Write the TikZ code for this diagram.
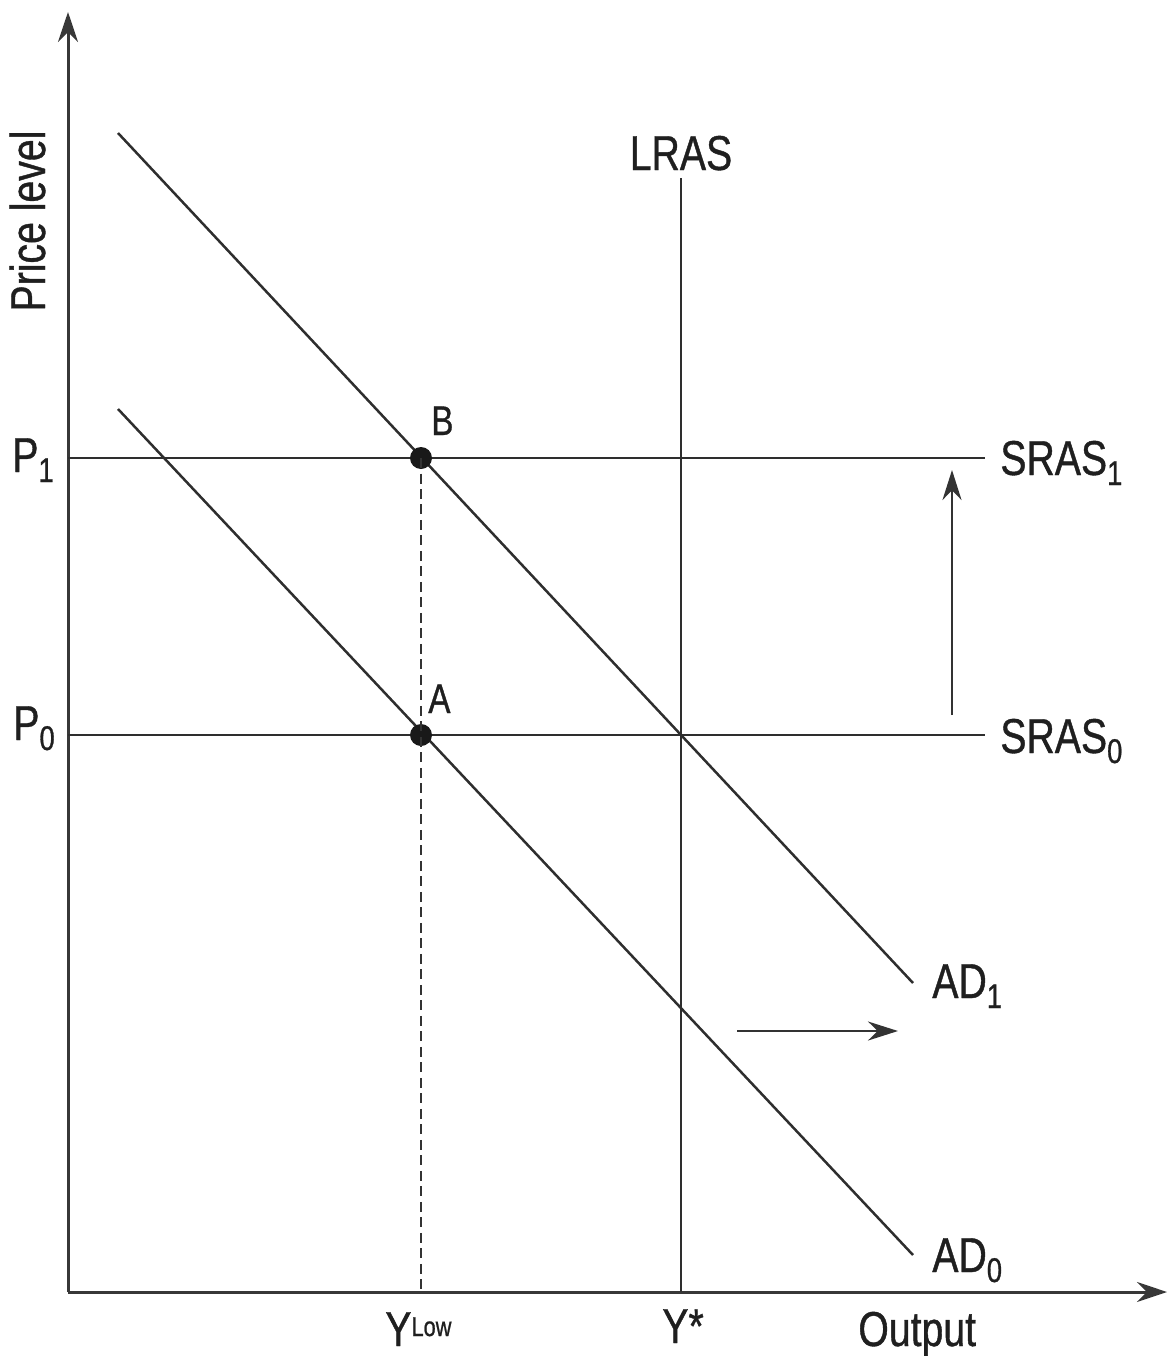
\documentclass[tikz,border=0pt]{standalone}
\usepackage{fontspec}
\setmainfont{Liberation Sans}[FakeStretch=0.8,FakeBold=0.8]
\usetikzlibrary{arrows.meta}
\newcommand\mysub[1]{\raisebox{-0.2cm}{\fontsize{19.5}{20}\selectfont #1}}
\begin{document}
\begin{tikzpicture}[x=0.02cm,y=-0.02cm,
  curve/.style={draw=black!82,line width=0.05cm},
  axis/.style={draw=black!78,line width=0.06cm,-{Stealth[length=0.6cm,width=0.4cm]}},
  shift arrow/.style={draw=black!80,line width=0.05cm,-{Stealth[length=0.6cm,width=0.38cm]}},
  guide/.style={draw=black!80,line width=0.045cm,dash pattern=on 0.2cm off 0.11cm},
  dotnode/.style={circle,fill=black!90,inner sep=0,minimum size=0.44cm},
  lbl/.style={inner sep=0,text=black!88,font=\fontsize{27.9}{30}\selectfont},
  small lbl/.style={inner sep=0,text=black!88,font=\fontsize{23.6}{25}\selectfont}]
\useasboundingbox (0,0) rectangle (1169,1356);
% coordinates
\coordinate (O) at (68,1292);
\coordinate (ytop) at (68,12);
\coordinate (xend) at (1167,1292);
\coordinate (lrasT) at (681,178);
\coordinate (lrasB) at (681,1292);
\coordinate (s1L) at (68,458);
\coordinate (s1R) at (985,458);
\coordinate (s0L) at (68,735);
\coordinate (s0R) at (985,735);
\coordinate (ad1S) at (118,133);
\coordinate (ad1E) at (913,983);
\coordinate (ad0S) at (118,409);
\coordinate (ad0E) at (913,1255);
\coordinate (yl) at (421,1292);
\coordinate (upS) at (952,715);
\coordinate (upE) at (952,470);
\coordinate (rtS) at (737,1031);
\coordinate (rtE) at (898,1031);
% axes
\draw[axis] (O) -- (ytop);
\draw[axis] (O) -- (xend);
% curves
\draw[curve] (lrasT) -- (lrasB);
\draw[curve] (s1L) -- (s1R);
\draw[curve] (s0L) -- (s0R);
\draw[curve] (ad1S) -- (ad1E);
\draw[curve] (ad0S) -- (ad0E);
% points
\node[dotnode] (B) at (421,458) {};
\node[dotnode] (A) at (421,735) {};
\draw[guide] (B.center) -- (yl);
% shift arrows
\draw[shift arrow] (upS) -- (upE);
\draw[shift arrow] (rtS) -- (rtE);
% labels
\node[lbl,anchor=base] (lrasl) at (681,170) {LRAS};
\node[lbl,anchor=base west] (p1l) at (12,472) {P\mysub{1}};
\node[lbl,anchor=base west] (p0l) at (13,740) {P\mysub{0}};
\node[small lbl,anchor=base west] (bl) at (431,435) {B};
\node[small lbl,anchor=base west] (al) at (428,713) {A};
\node[lbl,anchor=base west] (s1l) at (1000,475) {SRAS\mysub{1}};
\node[lbl,anchor=base west] (s0l) at (1000,753) {SRAS\mysub{0}};
\node[lbl,anchor=base west] (ad1l) at (932,998) {AD\mysub{1}};
\node[lbl,anchor=base west] (ad0l) at (932,1272) {AD\mysub{0}};
\node[lbl,anchor=base west] (ylowl) at (385,1346) {Y\raisebox{0.2cm}{\fontsize{15.5}{16}\selectfont Low}};
\node[lbl,anchor=base west] (ystarl) at (662,1343) {Y*};
\node[lbl,anchor=base west] (outl) at (858,1346) {Output};
\node[lbl,anchor=base,rotate=90] (pricel) at (45,221) {Price level};
\end{tikzpicture}
\end{document}
